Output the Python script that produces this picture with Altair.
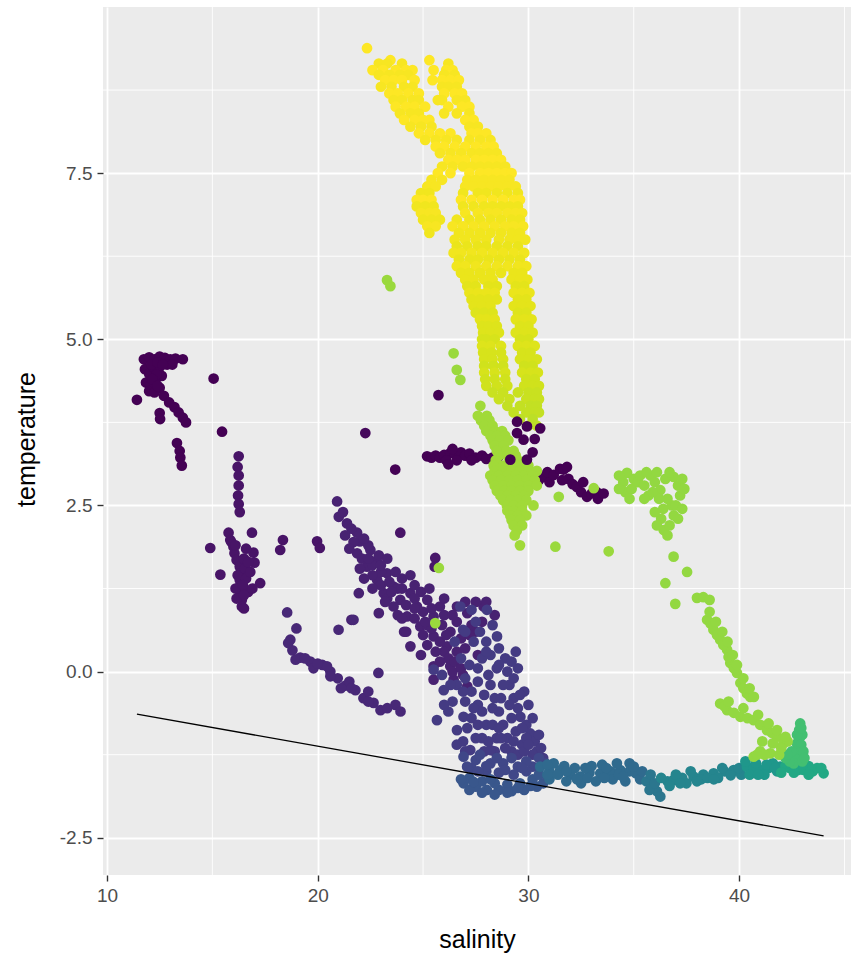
import altair as alt
import pandas as pd

# ---------------- data ----------------
# top-left dark cluster (colour value 0.0)
a_sal = [11.75, 12.0, 12.25, 12.5, 12.75, 13.0, 13.25, 13.6, 11.8, 12.0, 12.2, 12.45, 12.6,
         11.85, 12.05, 12.3, 12.0, 12.25, 12.5, 12.7, 12.95, 13.2, 13.4, 13.6, 13.75, 12.5,
         12.52, 13.32, 13.45, 13.48, 13.55, 11.42, 15.06, 15.46,
         12.1, 12.4, 12.35, 12.15, 12.4, 12.85, 13.1, 12.65]
a_temp = [4.70, 4.73, 4.70, 4.74, 4.72, 4.70, 4.71, 4.70, 4.55, 4.48, 4.58, 4.55, 4.45,
          4.35, 4.30, 4.38, 4.22, 4.20, 4.27, 4.15, 4.05, 3.98, 3.90, 3.82, 3.75, 3.89,
          3.80, 3.44, 3.32, 3.22, 3.10, 4.09, 4.41, 3.61,
          4.62, 4.65, 4.47, 4.40, 4.30, 4.62, 4.62, 4.62]

# strip near salinity 16 (0.05)
b_sal = [16.25, 16.2, 16.25, 16.25, 16.22, 16.25, 16.3, 15.77, 15.85, 16.0, 16.05, 16.15, 16.3,
         16.33, 16.3, 16.3, 16.35, 16.4, 16.4, 16.5, 16.2, 16.5, 16.55, 16.6, 16.88, 16.95,
         17.0, 17.27, 16.8, 14.9, 15.38, 18.22, 18.35, 19.97, 20.1, 15.9, 16.1, 16.7,
         16.1, 16.6, 16.45, 16.15, 16.5, 16.9, 16.7]
b_temp = [3.24, 3.08, 2.95, 2.80, 2.65, 2.52, 2.40, 2.09, 1.98, 1.88, 1.78, 1.68, 1.58,
          1.48, 1.38, 1.28, 1.18, 1.08, 0.98, 0.95, 1.45, 1.70, 1.55, 1.40, 2.09, 1.79,
          1.64, 1.33, 1.50, 1.86, 1.46, 1.83, 1.98, 1.96, 1.86, 1.95, 1.25, 1.20,
          1.90, 1.85, 1.30, 1.10, 1.15, 1.25, 1.65]

# isolated dark points
s_sal = [25.73, 23.68, 22.26, 23.92, 25.58, 25.55]
s_temp = [4.16, 3.04, 3.59, 2.09, 1.71, 1.58]
s_val = [0.0, 0.0, 0.02, 0.05, 0.06, 0.06]

# diagonal purple cluster (0.09)
c_sal = [20.92, 21.0, 21.39, 21.87, 22.0, 22.5, 21.87, 22.34, 22.8, 23.29, 22.82, 23.13, 23.6,
         23.92, 24.4, 24.71, 25.2, 25.5, 25.8, 23.6, 24.24, 24.87, 25.5, 26.14, 26.61, 27.1,
         27.87, 21.95, 21.6, 22.9, 22.4, 22.9, 23.3, 23.7, 24.0, 24.4, 23.0, 22.6,
         24.9, 25.3, 25.2, 25.9, 26.3, 26.6, 24.4, 24.9, 25.5, 26.29, 25.5, 26.45, 27.1, 26.0,
         26.8, 28.4, 27.5, 24.1, 23.3,
         21.2, 21.6, 22.2, 21.7, 22.1, 22.6, 23.0, 23.4, 23.8, 24.2, 24.6, 25.0, 25.4, 24.6,
         25.0, 25.4, 25.8, 26.2, 25.8, 26.6, 27.0, 26.4, 26.9, 23.8, 24.2, 22.6, 22.2, 26.4,
         27.5, 28.0, 27.3, 26.0,
         21.3, 21.5, 22.0, 22.4, 23.0, 23.5, 24.0, 24.6, 23.2, 24.0, 24.6, 25.1, 25.6, 26.1,
         26.5, 27.2, 27.8, 26.0, 25.2, 27.6, 26.8, 27.0]
c_temp = [2.56, 2.33, 2.23, 2.09, 1.96, 1.83, 1.78, 1.58, 1.67, 1.48, 1.38, 1.18, 1.28,
          1.08, 1.18, 0.98, 1.08, 0.83, 0.98, 0.98, 0.83, 0.68, 0.53, 0.38, 0.98, 0.88,
          0.98, 1.18, 0.78, 0.88, 1.90, 1.75, 1.70, 1.50, 1.40, 1.45, 1.50, 1.45,
          1.20, 1.25, 0.70, 0.70, 0.60, 0.75, 0.38, 0.25, 0.08, 0.08, -0.12, -0.12, -0.22, 0.30,
          0.50, 0.85, 0.60, 0.60, 1.10,
          2.40, 2.15, 2.00, 1.95, 1.70, 1.60, 1.30, 1.35, 1.25, 1.00, 1.10, 0.90, 0.95, 0.80,
          0.55, 0.65, 0.45, 0.20, 0.15, 0.30, 0.35, 0.00, -0.05, 0.85, 0.60, 1.25, 1.40, 0.85,
          1.05, 1.05, 0.70, 1.10,
          2.05, 1.85, 1.55, 1.70, 1.60, 1.20, 1.25, 1.30, 1.05, 0.80, 0.95, 0.75, 0.30, 0.55,
          0.15, 0.55, 0.75, 0.85, 0.40, 0.25, 0.05, 1.05]

# lower-left curved chain (0.11)
d_sal = [18.55, 18.99, 18.7, 18.8, 19.17, 19.65, 20.22, 20.6, 20.95, 21.32, 21.79, 22.17, 22.65,
         22.98, 23.69, 23.93, 22.88, 18.6, 18.95, 19.8, 20.44, 20.6, 21.1, 21.5, 22.4, 20.99, 21.7,
         19.4, 20.0, 21.6, 22.4, 23.3]
d_temp = [0.89, 0.65, 0.48, 0.32, 0.21, 0.15, 0.10, 0.0, -0.10, -0.21, -0.28, -0.40, -0.47,
          -0.58, -0.50, -0.60, -0.02, 0.43, 0.18, 0.05, 0.08, -0.07, -0.25, -0.15, -0.30, 0.63, 0.78,
          0.20, 0.12, -0.25, -0.45, -0.55]

# big blue-purple cluster (0.17)
e_sal = [26.77, 27.3, 28.03, 27.5, 26.9, 28.3, 28.51, 28.0, 27.4, 28.6, 28.2, 27.8, 28.9, 28.5,
         29.0, 28.1, 27.3, 27.0, 27.2, 26.8, 27.6, 28.0, 27.8, 28.2, 28.4, 28.6, 28.8, 29.0,
         29.1, 29.3, 29.5, 29.62, 29.9, 30.09, 30.3, 30.4, 30.6, 29.4, 29.7, 29.2, 28.5, 28.3,
         27.8, 28.8, 28.7, 29.2, 28.9, 28.4, 27.9, 27.24, 28.2, 26.61, 26.92, 26.4, 25.98, 25.5,
         25.66, 27.1, 27.5, 29.4, 29.5, 29.8, 30.0, 29.9, 30.2, 29.5, 26.2, 26.9, 27.3, 25.9,
         27.0, 27.7, 26.5, 26.6, 27.0, 27.4, 27.6, 27.9, 28.3, 28.7, 29.1, 29.3, 29.6, 29.7,
         30.2, 30.5, 30.7, 29.8, 28.1, 27.6, 26.9, 26.3, 26.0, 27.0, 26.6, 28.6, 29.2, 28.0,
         27.6, 28.6, 30.0, 29.3]
e_temp = [0.98, 0.93, 0.93, 0.75, 0.63, 0.70, 0.53, 0.45, 0.45, 0.35, 0.25, 0.20, 0.20, 0.05,
          0.0, -0.05, -0.30, -0.10, 0.10, 0.20, -0.50, -0.80, -0.60, -0.20, -0.40, -0.60, -0.80, -1.00,
          -0.20, -0.40, -0.55, -0.68, -0.80, -0.93, -1.05, -1.20, -1.15, -0.90, -1.10, -1.20, -1.00, -0.80,
          -1.00, -0.20, -0.40, -0.70, -1.15, -1.20, -1.20, -1.18, -1.18, -0.88, -0.68, -0.45, -0.28, 0.03,
          -0.73, -0.85, -1.00, 0.30, 0.05, -0.30, -0.50, -1.00, -1.25, -1.25, -0.60, -1.05, -0.70, -0.05,
          0.60, 0.60, 0.45, -0.20, -0.45, -0.55, -0.15, -0.35, -0.55, -1.00, -0.50, -0.10, -0.35, -0.85,
          -0.70, -0.95, -1.30, -1.20, -1.05, -0.80, -0.30, -0.20, -0.50, -1.20, -1.10, 0.10, 0.15, 0.30,
          0.05, -0.85, -1.10, -1.05]

# band below the cluster, upper part (0.21) and lower part (0.27)
f1_sal = [26.92, 27.5, 28.2, 28.8, 29.5, 30.2, 30.8, 27.3, 28.0, 28.6, 29.3, 29.9, 27.09,
          27.7, 28.5, 29.2, 29.9, 30.5, 28.0, 28.9, 29.7, 30.5, 27.6]
f1_temp = [-1.28, -1.33, -1.38, -1.38, -1.43, -1.43, -1.38, -1.45, -1.50, -1.52, -1.55, -1.50, -1.43,
           -1.25, -1.30, -1.30, -1.35, -1.30, -1.42, -1.48, -1.45, -1.45, -1.50]
f2_sal = [26.92, 27.5, 28.03, 28.6, 29.2, 29.8, 30.4, 30.7, 27.2, 27.8, 28.4, 29.0, 29.6, 30.2, 30.5,
          27.2, 27.8, 28.4, 29.0, 29.5, 30.1, 30.9, 28.2, 27.4, 26.8]
f2_temp = [-1.68, -1.73, -1.78, -1.78, -1.80, -1.78, -1.73, -1.68, -1.60, -1.65, -1.68, -1.70, -1.68,
           -1.62, -1.55, -1.78, -1.82, -1.85, -1.82, -1.75, -1.72, -1.58, -1.62, -1.66, -1.62]

# band 30.5-35 (0.34)
g_sal = [30.56, 31.0, 31.51, 32.0, 32.46, 32.9, 33.41, 33.9, 34.36, 34.8, 35.1, 31.0, 31.8, 32.5,
         33.2, 34.0, 34.6, 35.3, 31.2, 33.5, 34.2, 34.8, 31.4, 32.2, 33.0,
         30.9, 31.7, 32.3, 32.8, 33.6, 34.3, 35.0, 35.4, 31.8, 33.7, 32.7, 34.5, 30.9]
g_temp = [-1.43, -1.50, -1.48, -1.55, -1.58, -1.52, -1.53, -1.50, -1.48, -1.50, -1.53, -1.62, -1.65,
          -1.68, -1.65, -1.62, -1.65, -1.62, -1.38, -1.40, -1.38, -1.38, -1.55, -1.45, -1.42,
          -1.40, -1.42, -1.62, -1.60, -1.60, -1.55, -1.43, -1.50, -1.50, -1.45, -1.45, -1.58, -1.55]

# dip near 36 (0.39)
h_sal = [35.6, 35.94, 36.1, 36.26, 35.8, 35.75, 36.0]
h_temp = [-1.65, -1.73, -1.80, -1.88, -1.55, -1.78, -1.68]

# band 36.5-40 (0.45)
i_sal = [36.6, 36.89, 37.3, 37.84, 38.3, 38.79, 39.3, 39.74, 36.7, 37.5, 38.2, 39.0, 39.6, 40.1, 36.3,
         37.0, 37.7, 38.5, 39.2, 40.0, 37.2, 38.0, 38.8]
i_temp = [-1.65, -1.63, -1.60, -1.58, -1.55, -1.53, -1.50, -1.48, -1.72, -1.68, -1.62, -1.60, -1.56,
          -1.55, -1.60, -1.55, -1.50, -1.60, -1.45, -1.45, -1.68, -1.65, -1.62]

# band 40-42 (0.53)
j_sal = [40.37, 40.7, 41.0, 41.4, 41.95, 40.5, 41.2, 41.8, 40.3, 41.6, 40.8, 41.3, 41.7, 40.9]
j_temp = [-1.43, -1.45, -1.48, -1.45, -1.43, -1.55, -1.55, -1.50, -1.35, -1.38, -1.38, -1.40, -1.45, -1.55]

# band 42-44 (0.6)
k_sal = [42.4, 42.8, 43.06, 43.5, 44.01, 43.7, 42.6, 43.3, 42.2, 42.0, 43.0, 43.9, 43.3, 42.5]
k_temp = [-1.45, -1.48, -1.48, -1.50, -1.53, -1.45, -1.52, -1.42, -1.42, -1.52, -1.40, -1.45, -1.55, -1.40]

# dark horizontal strips (0.0)
strip1_sal = [25.19, 25.4, 25.6, 25.8, 26.0, 26.29, 26.5, 26.8, 27.0, 27.2, 27.5, 27.8, 28.0, 28.3,
              28.6, 26.1, 26.6, 27.3, 26.4, 26.2]
strip1_temp = [3.24, 3.22, 3.25, 3.22, 3.26, 3.29, 3.28, 3.30, 3.25, 3.28, 3.22, 3.25, 3.20, 3.22,
               3.24, 3.18, 3.18, 3.18, 3.35, 3.12]
strip2_sal = [30.5, 30.72, 30.9, 31.0, 31.2, 31.5, 31.67, 31.83, 31.9, 32.1, 32.3, 32.5, 32.6, 32.78,
              33.0, 33.25, 33.3, 33.57, 31.6]
strip2_temp = [2.88, 2.93, 3.00, 2.85, 2.96, 3.05, 3.04, 3.08, 2.90, 2.82, 2.78, 2.70, 2.85, 2.63,
               2.68, 2.70, 2.60, 2.68, 2.88]

# green spike near 42.8 (0.7)
spike_sal = [42.9, 42.85, 42.9, 42.75, 42.95, 42.7, 42.9, 42.6, 42.8, 42.59, 43.0, 42.4, 42.2,
             43.0, 42.75, 43.05, 42.5, 42.3, 43.1, 42.95]
spike_temp = [-0.78, -0.88, -0.98, -1.08, -1.10, -1.20, -1.22, -1.30, -1.32, -1.38, -1.35, -1.35, -1.30,
              -0.95, -0.95, -1.20, -1.20, -1.25, -1.30, -0.85]

# light-green curve on the right (0.84)
m_sal = [34.68, 34.5, 34.6, 34.9, 35.0, 35.2, 35.5, 35.8, 36.0, 36.26, 36.5, 36.89, 37.1, 37.2,
         36.8, 36.6, 36.4, 36.3, 36.42, 36.7, 36.9, 37.0, 36.2, 35.9, 35.7,
         34.3, 34.3, 34.8, 35.3, 35.6, 36.1, 36.7, 37.3, 37.4, 37.3, 37.1, 36.6, 36.1, 35.5, 36.0,
         36.89, 37.53, 36.5, 36.97, 38.0, 38.3, 38.6, 38.48, 38.78, 39.1, 39.43, 39.58, 39.9,
         40.06, 40.37, 40.53, 38.65, 38.95, 39.25, 39.5, 39.75, 40.2,
         38.6, 38.9, 39.2, 39.45, 39.7, 39.9, 40.2, 40.5, 40.7,
         39.1, 39.43, 39.75, 40.06, 40.4, 40.69, 41.0, 41.32, 41.55, 41.8, 42.1, 42.3, 40.69,
         41.0, 41.48, 41.9, 42.0, 39.3, 41.2, 40.85,
         39.5, 40.2, 40.9, 41.4, 41.8, 42.2, 41.1, 41.6]
m_temp = [2.99, 2.85, 2.70, 2.75, 2.90, 2.85, 2.80, 2.95, 2.85, 2.73, 2.90, 2.93, 2.80, 2.65,
          2.50, 2.60, 2.45, 2.30, 2.13, 2.20, 2.35, 2.50, 2.60, 2.70, 2.65,
          2.95, 2.75, 2.60, 2.95, 3.00, 3.00, 3.00, 2.90, 2.75, 2.45, 2.30, 2.05, 2.20, 2.60, 2.40,
          1.73, 1.50, 1.33, 1.02, 1.11, 1.12, 1.08, 0.78, 0.63, 0.48, 0.33, 0.13, -0.02,
          -0.17, -0.33, -0.38, 0.72, 0.55, 0.40, 0.22, 0.05, -0.25,
          0.90, 0.75, 0.60, 0.45, 0.25, 0.10, -0.10, -0.25, -0.38,
          -0.48, -0.58, -0.62, -0.68, -0.70, -0.73, -0.80, -0.88, -0.92, -0.98, -1.08, -1.05, -1.28,
          -1.20, -1.23, -1.25, -1.15, -0.52, -1.25, -1.25,
          -0.45, -0.55, -0.65, -0.78, -0.88, -0.98, -1.05, -1.08]

# light-green cluster under the column: one list of salinities per temperature row (0.86)
n_row_temp = [4.0, 3.85, 3.78, 3.7, 3.62, 3.55, 3.48, 3.4, 3.32, 3.25, 3.18, 3.1, 3.02, 2.95, 2.88,
              2.8, 2.72, 2.65, 2.58, 2.5, 2.42, 2.35, 2.28, 2.2, 2.12, 2.05, 1.9]
n_row_sal = [
    [27.72],
    [27.6, 28.03],
    [27.75, 28.15],
    [27.9, 28.3],
    [28.0, 28.4, 28.75],
    [28.2, 28.51, 28.9],
    [28.3, 28.65, 29.05],
    [28.4, 28.82],
    [28.5, 28.95, 29.3],
    [28.6, 29.0, 29.4],
    [28.45, 29.1, 29.5, 29.9],
    [28.35, 28.8, 29.2, 29.6, 30.0],
    [28.4, 28.8, 29.2, 29.6, 30.0, 30.4],
    [28.19, 28.6, 29.0, 29.4, 29.8, 30.2],
    [28.3, 28.7, 29.1, 29.5, 29.9, 30.3],
    [28.4, 28.8, 29.2, 29.6, 30.0, 30.4],
    [28.5, 28.85, 29.2, 29.6, 30.0],
    [28.67, 29.0, 29.4, 29.8],
    [28.8, 29.15, 29.5, 29.9],
    [28.98, 29.3, 29.7, 30.24],
    [29.0, 29.3, 29.7],
    [29.14, 29.5, 29.9],
    [29.2, 29.6],
    [29.3, 29.7],
    [29.45],
    [29.35],
    [29.6],
]
# scattered light-green points (0.85)
o_sal = [31.28, 33.81, 31.44, 33.10, 26.45, 26.6, 26.77, 23.29, 23.45, 25.75, 25.58]
o_temp = [1.88, 1.81, 2.63, 2.76, 4.79, 4.54, 4.39, 5.89, 5.80, 1.56, 0.73]

# yellow column: salinities per temperature row, with a colour value per row
col_row_temp = [9.38, 9.2, 9.15, 9.05, 8.98, 8.9, 8.8, 8.7, 8.6, 8.5, 8.4, 8.3, 8.2, 8.1, 8.0,
                7.9, 7.8, 7.7, 7.6, 7.5, 7.4, 7.3, 7.2, 7.1, 7.0, 6.9, 6.8, 6.7, 6.6, 6.5,
                6.4, 6.3, 6.2, 6.1, 6.0, 5.9, 5.8, 5.7, 5.6, 5.5, 5.4, 5.3, 5.2, 5.1, 5.0,
                4.9, 4.8, 4.7, 4.6, 4.5, 4.4, 4.3, 4.2, 4.1, 4.0, 3.9, 3.8, 3.7]
col_row_val = [1.0, 1.0, 0.99, 1.0, 0.99, 1.0, 0.99, 1.0, 0.99, 1.0, 0.99, 1.0, 0.99, 1.0, 0.99,
               1.0, 0.99, 1.0, 0.99, 1.0, 0.99, 0.99, 0.98, 1.0, 0.98, 0.99, 0.98, 0.99, 0.98, 0.98,
               0.97, 0.98, 0.97, 0.98, 0.97, 0.97, 0.96, 0.97, 0.96, 0.96, 0.95, 0.96, 0.95, 0.95, 0.94,
               0.95, 0.94, 0.94, 0.93, 0.94, 0.93, 0.93, 0.92, 0.92, 0.91, 0.91, 0.9, 0.9]
col_row_sal = [
    [22.34],
    [23.45, 25.3],
    [22.9, 23.3, 24.0, 26.2],
    [22.6, 23.1, 23.7, 24.2, 24.5, 25.5, 26.1, 26.4],
    [22.9, 23.4, 23.9, 24.3, 26.0, 26.5],
    [23.2, 23.6, 24.0, 24.6, 25.45, 25.9, 26.3, 26.7],
    [23.0, 23.5, 24.1, 24.5, 25.9, 26.2, 26.6],
    [23.4, 23.8, 24.3, 24.8, 26.0, 26.5, 26.85],
    [23.6, 24.0, 24.5, 24.8, 25.7, 25.9, 26.6, 27.0],
    [23.7, 24.2, 24.6, 25.1, 26.2, 26.85, 27.2],
    [23.9, 24.4, 24.8, 26.0, 26.6, 27.2],
    [24.1, 24.6, 25.0, 25.3, 27.0, 27.4],
    [24.4, 24.9, 25.4, 27.2, 27.6],
    [24.8, 25.3, 25.8, 26.3, 27.3, 27.6, 28.0],
    [25.1, 25.6, 26.1, 26.6, 27.2, 27.7, 28.2],
    [25.6, 26.0, 26.5, 27.0, 27.5, 28.0, 28.35],
    [25.8, 26.3, 26.8, 27.3, 27.7, 28.1, 28.5],
    [26.2, 26.6, 27.0, 27.5, 27.9, 28.3, 28.7],
    [25.9, 26.4, 26.9, 27.3, 27.7, 28.1, 28.5, 28.9],
    [25.7, 26.3, 27.2, 27.7, 28.1, 28.5, 28.9, 29.2],
    [25.4, 25.9, 27.1, 27.5, 27.9, 28.3, 28.7, 29.1],
    [25.2, 25.6, 27.0, 27.4, 27.8, 28.2, 28.6, 29.0, 29.4],
    [24.9, 25.3, 26.9, 27.6, 28.0, 28.5, 29.0, 29.5],
    [24.7, 25.0, 25.4, 26.8, 27.3, 27.8, 28.3, 28.8, 29.3, 29.6],
    [24.7, 25.1, 25.5, 26.9, 27.4, 27.9, 28.3, 28.7, 29.1, 29.5],
    [24.9, 25.3, 25.6, 27.0, 27.6, 28.1, 28.5, 29.0, 29.4, 29.7],
    [25.0, 25.4, 25.8, 26.6, 27.2, 27.7, 28.2, 28.7, 29.2, 29.6],
    [25.2, 25.6, 26.4, 26.9, 27.4, 27.9, 28.4, 28.9, 29.3, 29.75],
    [25.3, 26.7, 27.2, 27.7, 28.2, 28.7, 29.2, 29.6],
    [26.5, 27.0, 27.5, 28.0, 28.6, 29.1, 29.5, 29.85],
    [26.6, 27.1, 27.6, 28.0, 28.5, 29.0, 29.5],
    [26.45, 26.8, 27.3, 27.8, 28.3, 28.8, 29.3, 29.8],
    [26.7, 27.2, 27.6, 28.1, 28.6, 29.1, 29.6],
    [26.6, 27.0, 27.5, 28.0, 28.5, 29.0, 29.5, 29.9],
    [26.8, 27.2, 27.7, 28.2, 28.7, 29.3, 29.7],
    [27.0, 27.4, 27.9, 28.3, 29.2, 29.6, 29.95],
    [27.1, 27.5, 28.1, 28.5, 29.4, 29.8],
    [27.2, 27.6, 28.0, 28.4, 29.3, 29.7, 30.05],
    [27.3, 27.7, 28.1, 28.5, 29.5, 29.9],
    [27.4, 27.8, 28.2, 29.3, 29.7, 30.1],
    [27.5, 27.9, 28.3, 29.5, 29.9],
    [27.7, 28.0, 28.4, 29.4, 29.8, 30.15],
    [27.8, 28.1, 28.5, 29.6, 30.0],
    [27.85, 28.2, 28.6, 29.4, 29.8, 30.2],
    [27.8, 28.0, 28.4, 29.6, 30.0],
    [27.8, 28.2, 28.7, 29.5, 29.9, 30.3],
    [27.85, 28.25, 28.7, 29.7, 30.1],
    [27.9, 28.3, 28.8, 29.6, 30.0, 30.4],
    [27.9, 28.35, 28.8, 29.8, 30.2],
    [27.9, 28.4, 28.9, 29.7, 30.1, 30.45],
    [27.95, 28.4, 28.9, 29.9, 30.3],
    [28.0, 28.5, 29.0, 29.8, 30.2, 30.5],
    [28.3, 28.8, 29.5, 30.0, 30.4],
    [28.6, 29.1, 29.9, 30.3, 30.5],
    [29.0, 29.6, 30.1, 30.4],
    [29.3, 29.9, 30.3, 30.5],
    [29.6, 30.2],
    [30.0, 30.4],
]

# dark points lying on top of the green cluster (0.0)
q_sal = [29.46, 29.93, 30.56, 29.46, 29.77, 29.14, 29.93, 30.3, 30.2]
q_temp = [3.76, 3.69, 3.66, 3.59, 3.49, 3.19, 3.19, 3.50, 3.30]

# freezing line end points
line_sal = [11.42, 44.01]
line_temp = [-0.64, -2.47]

# tick values
x_ticks = [10, 20, 30, 40]
x_minor = [15, 25, 35, 45]
y_ticks = [-2.5, 0.0, 2.5, 5.0, 7.5]
y_minor = [-1.25, 1.25, 3.75, 6.25, 8.75]

# ---------------- build table ----------------
rows = []


def add(sals, temps, val):
    for s, t in zip(sals, temps):
        rows.append({"salinity": s, "temperature": t, "v": val})


add(a_sal, a_temp, 0.0)
add(b_sal, b_temp, 0.05)
for s, t, v in zip(s_sal, s_temp, s_val):
    rows.append({"salinity": s, "temperature": t, "v": v})
add(c_sal, c_temp, 0.09)
add(d_sal, d_temp, 0.11)
add(e_sal, e_temp, 0.17)
add(f1_sal, f1_temp, 0.21)
add(f2_sal, f2_temp, 0.27)
add(g_sal, g_temp, 0.34)
add(h_sal, h_temp, 0.39)
add(i_sal, i_temp, 0.45)
add(j_sal, j_temp, 0.53)
add(k_sal, k_temp, 0.6)
add(strip1_sal, strip1_temp, 0.0)
add(strip2_sal, strip2_temp, 0.0)
add(spike_sal, spike_temp, 0.7)
add(m_sal, m_temp, 0.84)
for t, sals in zip(n_row_temp, n_row_sal):
    add(sals, [t] * len(sals), 0.86)
add(o_sal, o_temp, 0.85)
for t, v, sals in zip(col_row_temp, col_row_val, col_row_sal):
    add(sals, [t] * len(sals), v)
add(q_sal, q_temp, 0.0)

df = pd.DataFrame(rows)
line_df = pd.DataFrame({"salinity": line_sal, "temperature": line_temp})

FONT = "Liberation Sans"
xscale = alt.Scale(domain=[9.81, 45.31], nice=False, zero=False)
yscale = alt.Scale(domain=[-3.06, 10.0], nice=False, zero=False)

x_axis = alt.Axis(values=x_ticks, format="d", grid=True, gridColor="white", gridWidth=1.8,
                  domain=False, tickColor="#333333", tickSize=6, tickWidth=1.4,
                  labelColor="#4D4D4D", labelFontSize=19, labelFont=FONT, labelPadding=5,
                  labelFlush=False, labelOverlap=False,
                  title="salinity", titleFont=FONT, titleFontSize=25, titleFontWeight="normal",
                  titleColor="black", titleBaseline="middle", titleY=64)
y_axis = alt.Axis(values=y_ticks, grid=True, gridColor="white", gridWidth=1.8,
                  labelExpr="datum.value < 0 ? '-' + format(-datum.value, '.1f') : format(datum.value, '.1f')",
                  domain=False, tickColor="#333333", tickSize=6, tickWidth=1.4,
                  labelColor="#4D4D4D", labelFontSize=19, labelFont=FONT, labelPadding=5,
                  labelFlush=False, labelOverlap=False,
                  title="temperature", titleFont=FONT, titleFontSize=25, titleFontWeight="normal",
                  titleColor="black", titleAngle=270, titleBaseline="middle", titleAlign="center",
                  titleX=-77, titleY=432)

xminor = alt.Chart(pd.DataFrame({"salinity": x_minor})).mark_rule(
    color="white", strokeWidth=0.9).encode(
    x=alt.X("salinity:Q", scale=xscale, axis=x_axis))
yminor = alt.Chart(pd.DataFrame({"temperature": y_minor})).mark_rule(
    color="white", strokeWidth=0.9).encode(
    y=alt.Y("temperature:Q", scale=yscale, axis=y_axis))

points = alt.Chart(df).mark_circle(size=115, opacity=1).encode(
    x=alt.X("salinity:Q", scale=xscale, axis=x_axis),
    y=alt.Y("temperature:Q", scale=yscale, axis=y_axis),
    color=alt.Color("v:Q", scale=alt.Scale(scheme="viridis", domain=[0, 1]), legend=None),
)

line = alt.Chart(line_df).mark_line(color="black", strokeWidth=1.3).encode(
    x=alt.X("salinity:Q", scale=xscale, axis=x_axis),
    y=alt.Y("temperature:Q", scale=yscale, axis=y_axis),
)

chart = alt.layer(xminor, yminor, points, line).properties(
    width=748, height=868,
    padding={"left": 103, "top": 7, "right": 0, "bottom": 81},
    autosize=alt.AutoSizeParams(type="none"),
    background="white",
).configure_view(fill="#EBEBEB", stroke=None)

chart.save("out.html", embed_options={"renderer": "svg", "actions": False})
